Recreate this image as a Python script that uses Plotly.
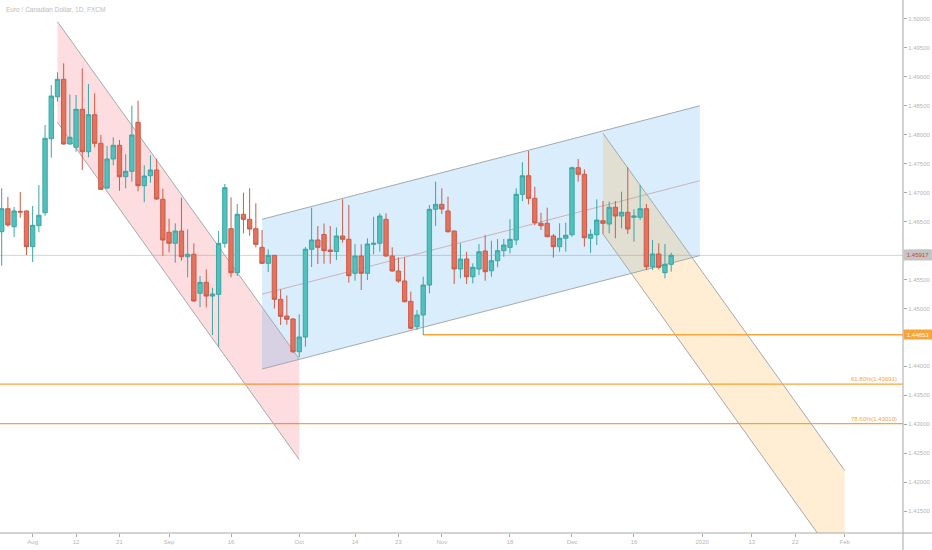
import pandas as pd
import plotly.graph_objects as go

# ---------------- data ----------------
first_day = "2019-07-25"
n_bars = 109
dates = pd.bdate_range(first_day, periods=n_bars)

opens = [1.46325, 1.46722, 1.46411, 1.46677, 1.46683, 1.46066, 1.46429, 1.46653, 1.47932, 1.48657,
         1.48958, 1.47840, 1.47783, 1.48440, 1.47707, 1.48346, 1.47852, 1.47080, 1.47581, 1.47818,
         1.47275, 1.47369, 1.48215, 1.47120, 1.47292, 1.47391, 1.46885, 1.46315, 1.46125, 1.46337,
         1.45893, 1.45935, 1.45261, 1.45451, 1.45214, 1.45243, 1.46125, 1.46377, 1.45617, 1.46626,
         1.46539, 1.46377, 1.46055, 1.45779, 1.45917, 1.45157, 1.44869, 1.44817, 1.44252, 1.44506,
         1.46021, 1.46182, 1.46277, 1.46009, 1.45983, 1.46251, 1.46194, 1.45606, 1.45905, 1.45606,
         1.46107, 1.46125, 1.46539, 1.45905, 1.45646, 1.45473, 1.45122, 1.44684, 1.44886, 1.45404,
         1.46712, 1.46798, 1.46683, 1.46337, 1.45681, 1.45853, 1.45547, 1.45681, 1.45992, 1.45651,
         1.45824, 1.45997, 1.46055, 1.46182, 1.46971, 1.47292, 1.46902, 1.46470, 1.46470, 1.46251,
         1.46066, 1.46211, 1.46273, 1.47431, 1.47317, 1.46211, 1.46273, 1.46515, 1.46458, 1.46747,
         1.46596, 1.46660, 1.46574, 1.46574, 1.46722, 1.45720, 1.45940, 1.45617, 1.45762]
highs = [1.47075, 1.46924, 1.46752, 1.47011, 1.46691, 1.46769, 1.47132, 1.48168, 1.48860, 1.49080,
         1.49234, 1.48695, 1.48687, 1.49148, 1.48877, 1.48716, 1.47996, 1.47806, 1.47956, 1.47909,
         1.47662, 1.48502, 1.48588, 1.47472, 1.47645, 1.47586, 1.47068, 1.46550, 1.46470, 1.46912,
         1.46366, 1.46125, 1.45560, 1.45675, 1.45357, 1.46337, 1.47149, 1.46919, 1.46804, 1.46999,
         1.47075, 1.46816, 1.46354, 1.46021, 1.45922, 1.45330, 1.45223, 1.44834, 1.44898, 1.46061,
         1.46740, 1.46423, 1.46467, 1.46423, 1.46398, 1.46885, 1.46786, 1.46112, 1.46107, 1.46211,
         1.46584, 1.46643, 1.46643, 1.46055, 1.45883, 1.45883, 1.45288, 1.44972, 1.45547, 1.46786,
         1.47189, 1.47075, 1.46930, 1.46346, 1.46125, 1.45979, 1.45779, 1.46112, 1.46268, 1.46169,
         1.46199, 1.46199, 1.46539, 1.47075, 1.47524, 1.47719, 1.47102, 1.46653, 1.46740, 1.46285,
         1.46470, 1.46480, 1.47448, 1.47581, 1.47403, 1.46366, 1.46885, 1.46855, 1.46843, 1.46855,
         1.47016, 1.47438, 1.46712, 1.47132, 1.46804, 1.46182, 1.46125, 1.46112, 1.45962]
lows = [1.45738, 1.46411, 1.46233, 1.46567, 1.45922, 1.45801, 1.46315, 1.46601, 1.47603, 1.48571,
        1.47831, 1.47831, 1.47707, 1.47391, 1.47610, 1.47783, 1.47045, 1.47063, 1.47472, 1.47033,
        1.47075, 1.47189, 1.47023, 1.46833, 1.47172, 1.46873, 1.45910, 1.45969, 1.45789, 1.45824,
        1.45537, 1.45116, 1.45019, 1.45019, 1.44540, 1.44338, 1.46049, 1.45537, 1.45560, 1.46297,
        1.46256, 1.46055, 1.45767, 1.45629, 1.44998, 1.44713, 1.44718, 1.44229, 1.44160, 1.44338,
        1.45715, 1.45767, 1.45772, 1.45772, 1.45836, 1.46135, 1.45444, 1.45478, 1.45318, 1.45490,
        1.45935, 1.45979, 1.45893, 1.45634, 1.45444, 1.45105, 1.44644, 1.44627, 1.44540, 1.45261,
        1.46423, 1.46631, 1.46308, 1.45421, 1.45520, 1.45421, 1.45433, 1.45577, 1.45478, 1.45547,
        1.45710, 1.45893, 1.45952, 1.46095, 1.46855, 1.46798, 1.46436, 1.46354, 1.46228, 1.45876,
        1.45979, 1.45979, 1.46239, 1.47189, 1.46066, 1.45962, 1.46095, 1.46285, 1.46297, 1.46211,
        1.46384, 1.46285, 1.46152, 1.46527, 1.45663, 1.45663, 1.45675, 1.45520, 1.45634]
closes = [1.46722, 1.46441, 1.46683, 1.46665, 1.46066, 1.46436, 1.46608, 1.47939, 1.48669, 1.48958,
          1.47840, 1.47956, 1.48440, 1.47707, 1.48346, 1.47852, 1.47058, 1.47581, 1.47818, 1.47275,
          1.47369, 1.47996, 1.47120, 1.47287, 1.47391, 1.46890, 1.46182, 1.46125, 1.46337, 1.45893,
          1.45935, 1.45128, 1.45451, 1.45214, 1.45249, 1.46125, 1.47085, 1.45617, 1.46626, 1.46539,
          1.46372, 1.46107, 1.45779, 1.45917, 1.45157, 1.44863, 1.44812, 1.44252, 1.44506, 1.46023,
          1.46182, 1.46055, 1.45997, 1.45983, 1.46251, 1.46194, 1.45565, 1.45905, 1.45606, 1.46112,
          1.46125, 1.46596, 1.45905, 1.45646, 1.45473, 1.45116, 1.44656, 1.44886, 1.45404, 1.46712,
          1.46798, 1.46717, 1.46325, 1.45681, 1.45853, 1.45547, 1.45710, 1.45979, 1.45634, 1.45824,
          1.45997, 1.46095, 1.46194, 1.46971, 1.47292, 1.46902, 1.46480, 1.46429, 1.46239, 1.46066,
          1.46211, 1.46263, 1.47431, 1.47317, 1.46221, 1.46280, 1.46527, 1.46470, 1.46747, 1.46596,
          1.46660, 1.46372, 1.46596, 1.46722, 1.45720, 1.45940, 1.45710, 1.45762, 1.45917]

holidays = ["2019-12-25"]

tick_dates = ["2019-08-01", "2019-08-12", "2019-08-21", "2019-09-02", "2019-09-16", "2019-10-01",
              "2019-10-14", "2019-10-23", "2019-11-01", "2019-11-18", "2019-12-02", "2019-12-16",
              "2020-01-01", "2020-01-13", "2020-01-22", "2020-02-03"]
tick_labels = ["Aug", "12", "21", "Sep", "16", "Oct", "14", "23", "Nov", "18", "Dec", "16",
               "2020", "13", "22", "Feb"]

# price-axis ticks (1.44500 is covered by the level label in the original)
price_ticks = [1.500, 1.495, 1.490, 1.485, 1.480, 1.475, 1.470, 1.465, 1.460, 1.455, 1.450,
               1.440, 1.435, 1.430, 1.425, 1.420, 1.415]

# drawings (anchor dates / prices)
pink_x = ["2019-08-07", "2019-10-01"]
pink_upper = [1.49953, 1.44126]
pink_lower = [1.48215, 1.42388]

blue_x = ["2019-09-23", "2019-12-31 15:00"]
blue_upper = [1.46539, 1.48500]
blue_lower = [1.43953, 1.45912]

orange_x = ["2019-12-09", "2020-02-03"]
orange_upper = [1.48025, 1.42198]
orange_lower = [1.46287, 1.40460]

last_price = 1.45917
last_price_label = "1.45917"
support_start = "2019-10-29"
support_level = 1.44545
support_label = "1.44653"
fib_levels = [1.43691, 1.43010]
fib_labels = ["61.80%(1.43691)", "78.60%(1.43010)"]

x_range = ["2019-07-24 17:30", "2020-02-14 09:36"]
y_range = [1.41120, 1.50328]

title_text = "Euro / Canadian Dollar, 1D, FXCM"

# ---------------- styles ----------------
FONT = "Liberation Sans, Arial, sans-serif"
AXIS_TXT = "#b5b5b5"
AXIS_LINE = "#a8a8a8"
ORANGE = "#f9a43a"
CH_LINE = "#a4a9ae"


def p(d):
    return str(d).replace(" ", "_")


def channel_path(xs, up, lo):
    return (f"M {p(xs[0])} {up[0]} L {p(xs[1])} {up[1]} "
            f"L {p(xs[1])} {lo[1]} L {p(xs[0])} {lo[0]} Z")


shapes = []
# fills
shapes.append(dict(type="path", path=channel_path(pink_x, pink_upper, pink_lower),
                   xref="x", yref="y", fillcolor="rgba(242,54,69,0.17)", line=dict(width=0), layer="below"))
shapes.append(dict(type="path", path=channel_path(blue_x, blue_upper, blue_lower),
                   xref="x", yref="y", fillcolor="rgba(33,150,243,0.17)", line=dict(width=0), layer="below"))
shapes.append(dict(type="path", path=channel_path(orange_x, orange_upper, orange_lower),
                   xref="x", yref="y", fillcolor="rgba(255,152,0,0.17)", line=dict(width=0), layer="below"))

# price line
shapes.append(dict(type="line", xref="paper", x0=0, x1=1, yref="y", y0=last_price, y1=last_price,
                   line=dict(color="#d4d4d4", width=1), layer="below"))

# channel borders
for xs, up, lo in [(pink_x, pink_upper, pink_lower), (blue_x, blue_upper, blue_lower),
                   (orange_x, orange_upper, orange_lower)]:
    for ys in (up, lo):
        shapes.append(dict(type="line", xref="x", yref="y", x0=xs[0], x1=xs[1], y0=ys[0], y1=ys[1],
                           line=dict(color=CH_LINE, width=1), layer="below"))
# blue midline
shapes.append(dict(type="line", xref="x", yref="y", x0=blue_x[0], x1=blue_x[1],
                   y0=(blue_upper[0] + blue_lower[0]) / 2, y1=(blue_upper[1] + blue_lower[1]) / 2,
                   line=dict(color="rgba(196,160,160,0.75)", width=1), layer="below"))

# orange levels
shapes.append(dict(type="line", xref="x", yref="y", x0=support_start, x1=x_range[1],
                   y0=support_level, y1=support_level, line=dict(color=ORANGE, width=1.3), layer="below"))
for lv in fib_levels:
    shapes.append(dict(type="line", xref="paper", x0=0, x1=1, yref="y", y0=lv, y1=lv,
                       line=dict(color=ORANGE, width=1.3), layer="below"))

# axes frame lines (bottom across full width, right going to bottom)
shapes.append(dict(type="line", xref="paper", yref="paper", x0=0, x1=932 / 903, y0=0, y1=0,
                   line=dict(color=AXIS_LINE, width=1)))
shapes.append(dict(type="line", xref="paper", yref="paper", x0=1, x1=1, y0=-17 / 533, y1=1,
                   line=dict(color=AXIS_LINE, width=1)))

annotations = [
    dict(text=title_text, xref="paper", yref="paper", x=0.004, y=1 - 10 / 533, xanchor="left",
         yanchor="middle", showarrow=False, font=dict(family=FONT, size=6.5, color="#bcbcbc")),
    dict(text=last_price_label, xref="paper", yref="y", x=1, y=last_price, xanchor="left",
         yanchor="middle", showarrow=False, bgcolor="#c4c4c4", width=28, height=10, borderpad=0,
         font=dict(family=FONT, size=6, color="#c8462e")),
    dict(text=support_label, xref="paper", yref="y", x=1, y=support_level, xanchor="left",
         yanchor="middle", showarrow=False, bgcolor=ORANGE, width=28, height=9, borderpad=0,
         font=dict(family=FONT, size=6, color="white")),
]
for lv, lb in zip(fib_levels, fib_labels):
    annotations.append(dict(text=lb, xref="paper", yref="y", x=899 / 903, y=lv, xanchor="right",
                            yanchor="bottom", yshift=0, showarrow=False,
                            font=dict(family=FONT, size=6, color=ORANGE)))

fig = go.Figure()
fig.add_trace(go.Candlestick(
    x=dates, open=opens, high=highs, low=lows, close=closes,
    increasing=dict(fillcolor="#52c0bd", line=dict(color="#3aa6a3", width=1)),
    decreasing=dict(fillcolor="#e2735f", line=dict(color="#cc5b48", width=1)),
    whiskerwidth=0, showlegend=False, hoverinfo="x+y"))

fig.update_layout(
    template="none",
    width=932, height=550,
    margin=dict(l=0, r=29, t=0, b=17, autoexpand=False),
    paper_bgcolor="white", plot_bgcolor="white",
    shapes=shapes, annotations=annotations,
    boxgap=0.3, boxgroupgap=0,
    showlegend=False,
    xaxis=dict(
        type="date", range=x_range, automargin=False,
        rangebreaks=[dict(bounds=["sat", "mon"]), dict(values=holidays)],
        rangeslider=dict(visible=False),
        tickvals=tick_dates, ticktext=tick_labels,
        showgrid=False, zeroline=False, showline=False,
        ticks="outside", ticklen=3, tickcolor=AXIS_LINE,
        tickfont=dict(family=FONT, size=6, color=AXIS_TXT),
    ),
    yaxis=dict(
        side="right", range=y_range, tickvals=price_ticks, tickformat=".5f", automargin=False,
        showgrid=False, zeroline=False, showline=False,
        ticks="outside", ticklen=3, tickcolor=AXIS_LINE,
        tickfont=dict(family=FONT, size=6, color=AXIS_TXT),
    ),
)

fig.write_html("out.html", config={"displayModeBar": False},
               post_script="document.body.style.margin='0px';document.body.style.overflow='hidden';")
